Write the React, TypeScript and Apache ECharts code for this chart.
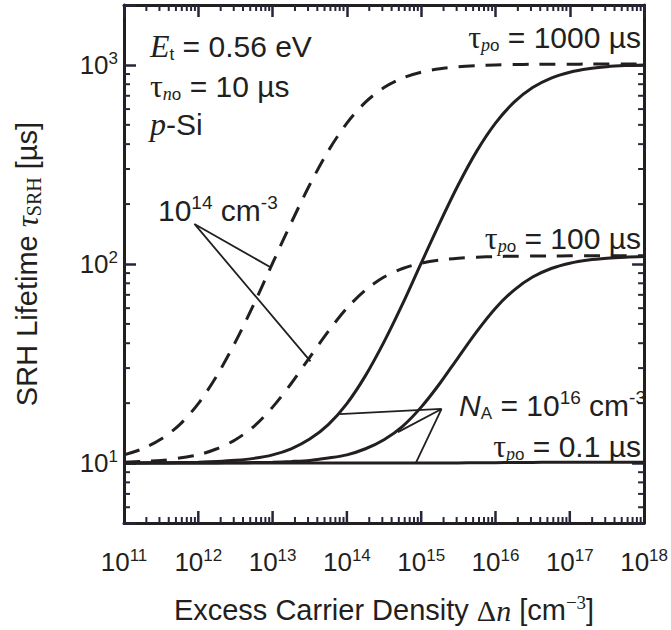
import React, { useEffect, useRef } from 'react';
import * as echarts from 'echarts';

// Excess carrier density grid (cm^-3), quarter-decade steps
const dnGrid = [
  1e11, 1.78e11, 3.16e11, 5.62e11,
  1e12, 1.78e12, 3.16e12, 5.62e12,
  1e13, 1.78e13, 3.16e13, 5.62e13,
  1e14, 1.78e14, 3.16e14, 5.62e14,
  1e15, 1.78e15, 3.16e15, 5.62e15,
  1e16, 1.78e16, 3.16e16, 5.62e16,
  1e17, 1.78e17, 3.16e17, 5.62e17,
  1e18,
];
// N_A = 1e14, tau_p0 = 1000 us (dashed)
const dashed1000 = [
  11.0, 11.8, 13.2, 15.6, 19.9, 27.5, 40.6, 63, 101, 161, 250, 370, 510, 650, 770, 859,
  919, 957, 979, 992, 1000, 1004, 1007, 1008, 1009, 1009.5, 1010, 1010, 1010,
];
// N_A = 1e14, tau_p0 = 100 us (dashed)
const dashed100 = [
  10.1, 10.2, 10.3, 10.6, 11.0, 11.8, 13.1, 15.3, 19.1, 25.1, 34.0, 45.9, 60, 74, 86, 94.9,
  100.9, 104.7, 106.9, 108.2, 109.0, 109.4, 109.7, 109.8, 109.9, 110, 110, 110, 110,
];
// N_A = 1e16, tau_p0 = 1000 us (solid)
const solid1000 = [
  10.01, 10.02, 10.03, 10.06, 10.1, 10.18, 10.32, 10.56, 11.0, 11.8, 13.2, 15.6, 19.9, 27.5, 40.6, 63,
  101, 161, 250, 370, 510, 650, 770, 859, 919, 957, 979, 992, 1000,
];
// N_A = 1e16, tau_p0 = 100 us (solid)
const solid100 = [
  10.0, 10.0, 10.0, 10.01, 10.01, 10.02, 10.03, 10.06, 10.1, 10.18, 10.3, 10.6, 11.0, 11.8, 13.1, 15.3,
  19.1, 25.1, 34.0, 45.9, 60, 74, 86, 94.9, 100.9, 104.7, 106.9, 108.2, 109.0,
];
// tau_p0 = 0.1 us (solid, flat)
const solid01 = [
  10, 10, 10, 10, 10, 10, 10, 10, 10, 10, 10, 10, 10, 10, 10, 10,
  10.01, 10.01, 10.02, 10.03, 10.05, 10.06, 10.08, 10.09, 10.09, 10.1, 10.1, 10.1, 10.1,
];

// annotation pointer lines (data coords)
const pointer14 = [[9.5e12, 96], [8.87e11, 159], [3.24e13, 32.4]];
const pointer16 = [[7.93e13, 17.6], [1.88e15, 18.7], [4.86e14, 14.3], [1.88e15, 18.7], [8.45e14, 10]];

const X_MIN = 1e11;
const X_MAX = 1e18;
const Y_MIN = 5;
const Y_MAX = 2000;
const minorMult = [2, 3, 4, 5, 6, 7, 8, 9];
const xDecades = [1e11, 1e12, 1e13, 1e14, 1e15, 1e16, 1e17];
const xMajorInner = [1e12, 1e13, 1e14, 1e15, 1e16, 1e17];
const yDecades = [1, 10, 100, 1000];

const INK = '#231f20';
const TICK = '#26263a';
const SANS = '"Liberation Sans", Arial, Helvetica, sans-serif';
const SERIF = '"Liberation Serif", "Times New Roman", serif';

// x ticks on the bottom: [value, tick length]
const xTicks: number[][] = [];
xDecades.forEach((d) => minorMult.forEach((m) => xTicks.push([d * m, 6])));
xMajorInner.forEach((d) => xTicks.push([d, 12]));
const xMinor: number[] = [];
xDecades.forEach((d) => minorMult.forEach((m) => xMinor.push(d * m)));
const yMinor: number[] = [];
yDecades.forEach((d) => minorMult.forEach((m) => {
  const v = d * m;
  if (v > Y_MIN && v < Y_MAX) yMinor.push(v);
}));

function pow10Label(v: number) {
  const l = Math.log10(v);
  const e = Math.round(l);
  if (Math.abs(l - e) > 1e-6) return '';
  return `{b|10}{s|${e}}`;
}

const tickRich = {
  b: { fontFamily: SANS, fontSize: 26, color: INK, lineHeight: 30 },
  s: { fontFamily: SANS, fontSize: 17, color: INK, verticalAlign: 'top', lineHeight: 30 },
};

const AF = 30;
const annRich: any = {
  r: { fontFamily: SANS, fontSize: AF, lineHeight: 34 },
  ei: { fontFamily: SERIF, fontStyle: 'italic', fontSize: AF + 2, lineHeight: 34 },
  tau: { fontFamily: SERIF, fontSize: AF + 2, lineHeight: 34 },
  sbi: { fontFamily: SERIF, fontStyle: 'italic', fontSize: 18, verticalAlign: 'bottom', lineHeight: 30 },
  sb: { fontFamily: SANS, fontSize: 17, verticalAlign: 'bottom', lineHeight: 30 },
  sup: { fontFamily: SANS, fontSize: 19, verticalAlign: 'top', lineHeight: 34 },
  ni: { fontFamily: SANS, fontStyle: 'italic', fontSize: AF, lineHeight: 34 },
};

function annText(x: number, y: number, text: string, align: string) {
  return {
    type: 'text',
    x,
    y,
    silent: true,
    style: { text, rich: annRich, fill: INK, align, verticalAlign: 'middle', font: `${AF}px ${SANS}` },
  };
}

function pairs(ys: number[]) {
  return dnGrid.map((x, i) => [x, ys[i]]);
}

export default function App() {
  const ref = useRef<HTMLDivElement>(null);
  useEffect(() => {
    if (!ref.current) return;
    const chart = echarts.init(ref.current, undefined, { renderer: 'svg' });
    const curve = (data: number[], dashed: boolean) => ({
      type: 'line',
      data: pairs(data),
      smooth: 0.3,
      symbol: 'none',
      silent: true,
      lineStyle: { color: INK, width: 3, type: dashed ? [16, 11] : 'solid' },
      z: 3,
    });
    const option: any = {
      animation: false,
      backgroundColor: '#ffffff',
      grid: { left: 124, right: 23, top: 5, bottom: 102, containLabel: false },
      xAxis: [
        {
          type: 'log',
          logBase: 10,
          min: X_MIN,
          max: X_MAX,
          position: 'bottom',
          axisLine: { show: true, onZero: false, lineStyle: { color: INK, width: 3 } },
          axisTick: { show: false },
          splitLine: { show: false },
          name: '{a|Excess Carrier Density }{d|Δ}{n|n}{a| [cm}{s|−3}{a|]}',
          nameLocation: 'middle',
          nameGap: 70,
          nameTextStyle: {
            rich: {
              a: { fontFamily: SANS, fontSize: 29, color: INK, lineHeight: 34 },
              d: { fontFamily: SERIF, fontSize: 30, color: INK, lineHeight: 34 },
              n: { fontFamily: SERIF, fontStyle: 'italic', fontSize: 30, color: INK, lineHeight: 34 },
              s: { fontFamily: SERIF, fontSize: 19, color: INK, verticalAlign: 'top', lineHeight: 34 },
            },
          },
          axisLabel: { show: true, margin: 24, formatter: pow10Label, rich: tickRich },
        },
        {
          type: 'log',
          logBase: 10,
          min: X_MIN,
          max: X_MAX,
          position: 'top',
          axisLine: { show: true, onZero: false, lineStyle: { color: INK, width: 3 } },
          axisTick: { show: true, inside: true, length: 12, lineStyle: { color: TICK, width: 2.5 } },
          splitLine: { show: false },
          axisLabel: { show: false },
        },
      ],
      yAxis: [
        {
          type: 'log',
          logBase: 10,
          min: Y_MIN,
          max: Y_MAX,
          position: 'left',
          axisLine: { show: true, onZero: false, lineStyle: { color: INK, width: 3 } },
          axisTick: { show: true, inside: true, length: 12, lineStyle: { color: TICK, width: 2.5 } },
          splitLine: { show: false },
          name: '{a|SRH Lifetime }{t|τ}{s|SRH}{a| [µs]}',
          nameLocation: 'middle',
          nameRotate: 90,
          nameGap: 80,
          nameTextStyle: {
            rich: {
              a: { fontFamily: SANS, fontSize: 29, color: INK, lineHeight: 34 },
              t: { fontFamily: SERIF, fontStyle: 'italic', fontSize: 31, color: INK, lineHeight: 34 },
              s: { fontFamily: SERIF, fontSize: 20, color: INK, verticalAlign: 'bottom', lineHeight: 30 },
            },
          },
          axisLabel: { show: true, margin: 6, formatter: pow10Label, rich: tickRich },
        },
        {
          type: 'log',
          logBase: 10,
          min: Y_MIN,
          max: Y_MAX,
          position: 'right',
          axisLine: { show: true, onZero: false, lineStyle: { color: INK, width: 3 } },
          axisTick: { show: true, inside: true, length: 12, lineStyle: { color: TICK, width: 2.5 } },
          splitLine: { show: false },
          axisLabel: { show: false },
        },
      ],
      series: [
        curve(dashed1000, true),
        curve(dashed100, true),
        curve(solid1000, false),
        curve(solid100, false),
        curve(solid01, false),
        {
          type: 'line',
          data: pointer14,
          symbol: 'none',
          silent: true,
          lineStyle: { color: INK, width: 1.8 },
          z: 4,
        },
        {
          type: 'line',
          data: pointer16,
          symbol: 'none',
          silent: true,
          lineStyle: { color: INK, width: 1.8 },
          z: 4,
        },
        {
          type: 'custom',
          coordinateSystem: 'cartesian2d',
          xAxisIndex: 0,
          yAxisIndex: 0,
          silent: true,
          data: xTicks.map((t) => [t[0], Y_MIN, t[1]]),
          renderItem: (params: any, api: any) => {
            const v = api.value(0);
            const len = api.value(2);
            const b = api.coord([v, Y_MIN]);
            const w = len > 8 ? 2.5 : 2;
            return {
              type: 'rect',
              shape: { x: b[0] - w / 2, y: b[1] - len, width: w, height: len },
              style: { fill: TICK },
            };
          },
          z: 5,
        },
        {
          type: 'custom',
          coordinateSystem: 'cartesian2d',
          xAxisIndex: 0,
          yAxisIndex: 0,
          silent: true,
          data: xMinor.map((v) => [v, Y_MAX]),
          renderItem: (params: any, api: any) => {
            const v = api.value(0);
            const t = api.coord([v, Y_MAX]);
            return {
              type: 'rect',
              shape: { x: t[0] - 1, y: t[1], width: 2, height: 6 },
              style: { fill: TICK },
            };
          },
          z: 5,
        },
        {
          type: 'custom',
          coordinateSystem: 'cartesian2d',
          silent: true,
          data: yMinor.map((v) => [X_MIN, v]),
          renderItem: (params: any, api: any) => {
            const v = api.value(1);
            const l = api.coord([X_MIN, v]);
            const r = api.coord([X_MAX, v]);
            const st = { stroke: TICK, lineWidth: 2 };
            return {
              type: 'group',
              children: [
                { type: 'line', shape: { x1: l[0], y1: l[1], x2: l[0] + 6, y2: l[1] }, style: st },
                { type: 'line', shape: { x1: r[0], y1: r[1], x2: r[0] - 6, y2: r[1] }, style: st },
              ],
            };
          },
          z: 5,
        },
      ],
      graphic: [
        annText(150, 46, '{ei|E}{sb|t}{r| = 0.56 eV}', 'left'),
        annText(150, 86, '{tau|τ}{sbi|n}{sb|o}{r| = 10 µs}', 'left'),
        annText(150, 124, '{ei|p}{r|-Si}', 'left'),
        annText(158, 210, '{r|10}{sup|14}{r| cm}{sup|-3}', 'left'),
        annText(641, 37, '{tau|τ}{sbi|p}{sb|o}{r| = 1000 µs}', 'right'),
        annText(641, 238, '{tau|τ}{sbi|p}{sb|o}{r| = 100 µs}', 'right'),
        annText(646, 405, '{ni|N}{sb|A}{r| = 10}{sup|16}{r| cm}{sup|-3}', 'right'),
        annText(641, 446, '{tau|τ}{sbi|p}{sb|o}{r| = 0.1 µs}', 'right'),
      ],
    };
    chart.setOption(option);
    return () => chart.dispose();
  }, []);
  return (
    <div
      ref={ref}
      style={{ position: 'absolute', left: 0, top: 0, width: 671, height: 630, background: '#fff' }}
    />
  );
}
